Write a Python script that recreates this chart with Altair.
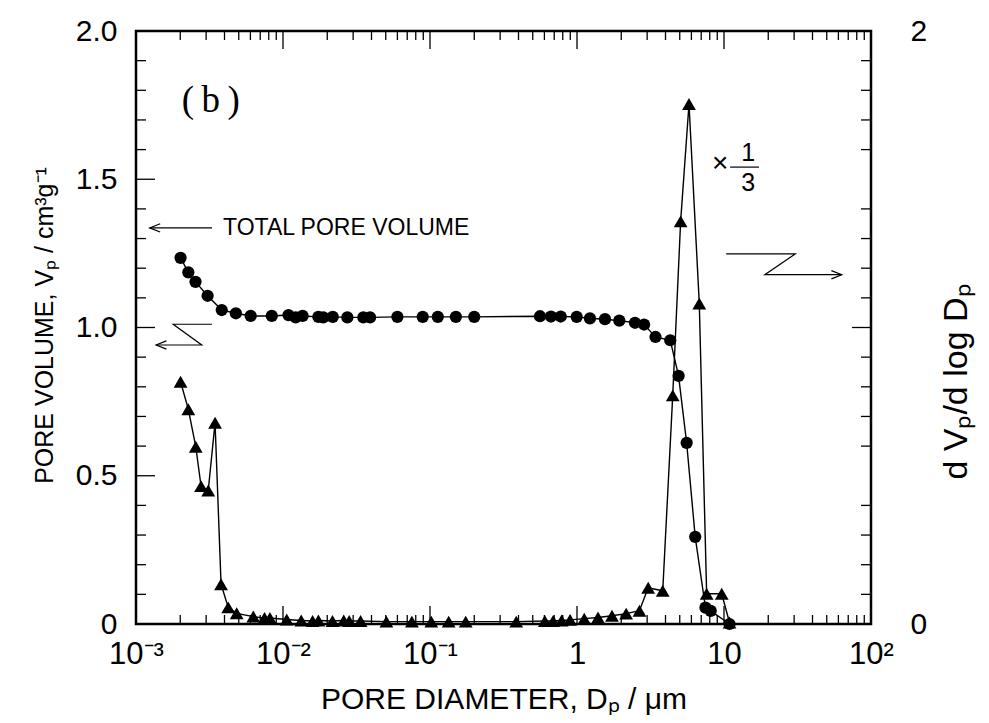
import altair as alt
import pandas as pd

# ---------------- data ----------------
# cumulative pore volume (circles), cm3/g
circ_d = [0.00201, 0.00227, 0.00254, 0.00307, 0.00383, 0.00478, 0.00603, 0.00839,
          0.0109, 0.0122, 0.0136, 0.0174, 0.0188, 0.0218, 0.0274, 0.0352, 0.0391,
          0.0600, 0.0892, 0.113, 0.150, 0.200, 0.560, 0.665, 0.775, 0.995, 1.225,
          1.55, 1.94, 2.48, 2.86, 3.42, 4.31, 4.91, 5.57, 6.37, 7.48, 8.12, 10.9]
circ_v = [1.235, 1.186, 1.154, 1.107, 1.059, 1.048, 1.039, 1.039,
          1.042, 1.034, 1.039, 1.036, 1.034, 1.036, 1.034, 1.034, 1.034,
          1.036, 1.036, 1.036, 1.036, 1.036, 1.038, 1.037, 1.037, 1.036, 1.031,
          1.028, 1.023, 1.016, 1.010, 0.968, 0.957, 0.837, 0.611, 0.294, 0.055, 0.044, 0.0]

# dVp/dlogDp (triangles)
tri_d = [0.00201, 0.00227, 0.00255, 0.00277, 0.00310, 0.00345, 0.00379, 0.00424,
         0.00484, 0.00628, 0.00749, 0.00815, 0.0106, 0.0133, 0.0159, 0.0174, 0.0217,
         0.0259, 0.0282, 0.0337, 0.0505, 0.0753, 0.102, 0.134, 0.175, 0.386, 0.604,
         0.688, 0.786, 0.897, 1.12, 1.39, 1.73, 2.16, 2.66, 3.05, 3.83, 4.48, 5.07,
         5.78, 6.79, 7.62, 9.65, 10.9]
tri_v = [0.817, 0.724, 0.598, 0.465, 0.450, 0.679, 0.134, 0.056,
         0.036, 0.025, 0.020, 0.020, 0.015, 0.012, 0.010, 0.012, 0.010,
         0.012, 0.010, 0.010, 0.008, 0.008, 0.008, 0.008, 0.008, 0.008, 0.010,
         0.010, 0.012, 0.014, 0.018, 0.022, 0.028, 0.035, 0.045, 0.122, 0.112, 0.771, 1.358,
         1.754, 1.081, 0.102, 0.102, 0.005]

# axes
x_major = [0.001, 0.01, 0.1, 1, 10, 100]
x_labels = ["10⁻³", "10⁻²", "10⁻¹", "1", "10", "10²"]
x_minor = [0.002, 0.003, 0.004, 0.005, 0.006, 0.007, 0.008, 0.009,
           0.02, 0.03, 0.04, 0.05, 0.06, 0.07, 0.08, 0.09,
           0.2, 0.3, 0.4, 0.5, 0.6, 0.7, 0.8, 0.9,
           2, 3, 4, 5, 6, 7, 8, 9,
           20, 30, 40, 50, 60, 70, 80, 90]
yl_major = [0, 0.5, 1.0, 1.5, 2.0]
yl_labels = ["0", "0.5", "1.0", "1.5", "2.0"]
yl_major_ticks = [0.5, 1.0, 1.5]
y_minor = [0.1, 0.2, 0.3, 0.4, 0.6, 0.7, 0.8, 0.9, 1.1, 1.2, 1.3, 1.4,
           1.6, 1.7, 1.8, 1.9]
yr_major = [0, 1, 2]
yr_major_ticks = [1.0]

# annotation paths (in data units)
path_seg = ["total", "total", "th", "th", "th",
            "zl", "zl", "zl", "zl", "zlh", "zlh", "zlh",
            "zr", "zr", "zr", "zr", "zrh", "zrh", "zrh",
            "bar", "bar"]
path_x = [0.00329, 0.00124, 0.00146, 0.00124, 0.00146,
          0.00329, 0.00179, 0.00280, 0.00137, 0.00161, 0.00137, 0.00161,
          10.35, 30.5, 18.95, 63.2, 53.8, 63.2, 53.8,
          11.0, 17.3]
path_y = [1.336, 1.336, 1.350, 1.336, 1.322,
          1.011, 1.011, 0.941, 0.941, 0.955, 0.941, 0.927,
          1.248, 1.248, 1.178, 1.178, 1.192, 1.178, 1.164,
          1.541, 1.541]

# ---------------- chart ----------------
W, H = 735, 593
FONT = "Liberation Sans"

xscale = alt.Scale(type="log", domain=[0.001, 100], nice=False)
yscale = alt.Scale(domain=[0, 2], nice=False, zero=False)


def label_expr(vals, labs):
    arr_l = "[" + ",".join("'" + s + "'" for s in labs) + "]"
    arr_v = "[" + ",".join(repr(v) for v in vals) + "]"
    return f"{arr_l}[indexof({arr_v}, datum.value)]"


xaxis = alt.Axis(values=x_major, labelExpr=label_expr(x_major, x_labels),
                 ticks=False, domain=False, grid=False, labelFlush=False,
                 labelOverlap=False, labelBound=False,
                 labelFont=FONT, labelFontSize=31, labelColor="black", labelPadding=15,
                 title="PORE DIAMETER, Dₚ / μm", titleFont=FONT, titleFontSize=30,
                 titleFontWeight="normal", titleColor="black",
                 titleBaseline="middle", titleY=75)
yaxis_l = alt.Axis(values=yl_major, labelExpr=label_expr(yl_major, yl_labels),
                   ticks=False, domain=False, grid=False, labelOverlap=False,
                   labelFont=FONT, labelFontSize=30, labelColor="black", labelPadding=19,
                   title="PORE VOLUME, Vₚ / cm³g⁻¹", titleFont=FONT, titleFontSize=25,
                   titleFontWeight="normal", titleColor="black",
                   titleAngle=270, titleBaseline="middle", titleX=-92, titleY=294)
yaxis_r = alt.Axis(orient="right", values=yr_major, format="d",
                   ticks=False, domain=False, grid=False, labelOverlap=False,
                   labelFont=FONT, labelFontSize=30, labelColor="black", labelPadding=39,
                   labelAlign="left",
                   title="d Vₚ/d log Dₚ", titleFont=FONT, titleFontSize=34,
                   titleFontWeight="normal", titleColor="black",
                   titleAngle=270, titleBaseline="middle", titleX=85, titleY=350)

X = alt.X("x:Q", scale=xscale, axis=xaxis)
Y = alt.Y("y:Q", scale=yscale, axis=yaxis_l)

circ_df = pd.DataFrame({"x": circ_d, "y": circ_v})
tri_df = pd.DataFrame({"x": tri_d, "y": tri_v})

circ_line = alt.Chart(circ_df).mark_line(color="black", strokeWidth=1.4).encode(x=X, y=Y)
circ_pts = alt.Chart(circ_df).mark_point(shape="circle", filled=True, size=150,
                                         color="black", opacity=1).encode(x=X, y=Y)
tri_line = alt.Chart(tri_df).mark_line(color="black", strokeWidth=1.4).encode(x=X, y=Y)


# inward ticks
def xticks(vals, length, top):
    df = pd.DataFrame({"x": vals})
    if top:
        yy, yy2 = alt.value(0), alt.value(length)
    else:
        yy, yy2 = alt.value(H), alt.value(H - length)
    return alt.Chart(df).mark_rule(color="black", strokeWidth=1.3).encode(x=X, y=yy, y2=yy2)


def yticks(vals, length, right):
    df = pd.DataFrame({"y": vals})
    if right:
        xx, xx2 = alt.value(W), alt.value(W - length)
    else:
        xx, xx2 = alt.value(0), alt.value(length)
    return alt.Chart(df).mark_rule(color="black", strokeWidth=1.3).encode(y=Y, x=xx, x2=xx2)


ticks = [
    xticks(x_minor, 9, False), xticks(x_major, 18, False),
    xticks(x_minor, 9, True), xticks(x_major, 18, True),
    yticks(y_minor, 10, False), yticks(yl_major_ticks, 19, False),
    yticks(y_minor, 10, True), yticks(yr_major_ticks, 19, True),
]

path_df = pd.DataFrame({"seg": path_seg, "x": path_x, "y": path_y,
                        "o": list(range(len(path_x)))})
paths = alt.Chart(path_df).mark_line(color="black", strokeWidth=1.2).encode(
    x=X, y=Y, detail="seg:N", order="o:Q")

txt_b = alt.Chart(pd.DataFrame({"x": [0.00205], "y": [1.765], "t": ["(\u2009b\u2009)"]})).mark_text(
    align="left", baseline="middle", font="Liberation Serif", fontSize=37, color="black"
).encode(x=X, y=Y, text="t:N")
txt_total = alt.Chart(pd.DataFrame({"x": [0.00391], "y": [1.336], "t": ["TOTAL PORE VOLUME"]})).mark_text(
    align="left", baseline="middle", font=FONT, fontSize=23, color="black"
).encode(x=X, y=Y, text="t:N")
txt_times = alt.Chart(pd.DataFrame({"x": [9.4], "y": [1.55], "t": ["×"]})).mark_text(
    align="center", baseline="middle", font=FONT, fontSize=28, color="black"
).encode(x=X, y=Y, text="t:N")
txt_frac = alt.Chart(pd.DataFrame({"x": [14.6, 14.6], "y": [1.590, 1.488], "t": ["1", "3"]})).mark_text(
    align="center", baseline="middle", font=FONT, fontSize=25, color="black"
).encode(x=X, y=Y, text="t:N")

layer_a = alt.layer(circ_line, tri_line, *ticks, paths, circ_pts,
                    txt_b, txt_total, txt_times, txt_frac)

tri_pts = alt.Chart(tri_df).mark_point(shape="triangle-up", filled=True, size=190,
                                       color="black", opacity=1).encode(
    x=X, y=alt.Y("y:Q", scale=yscale, axis=yaxis_r))

chart = alt.layer(layer_a, tri_pts).resolve_scale(y="independent").properties(
    width=W, height=H,
    padding={"left": 128, "top": 23, "right": 110, "bottom": 91},
    autosize=alt.AutoSizeParams(type="none"),
    background="white",
).configure_view(stroke="black", strokeWidth=2.5)

chart.save("out.html", embed_options={"renderer": "svg", "actions": False})
